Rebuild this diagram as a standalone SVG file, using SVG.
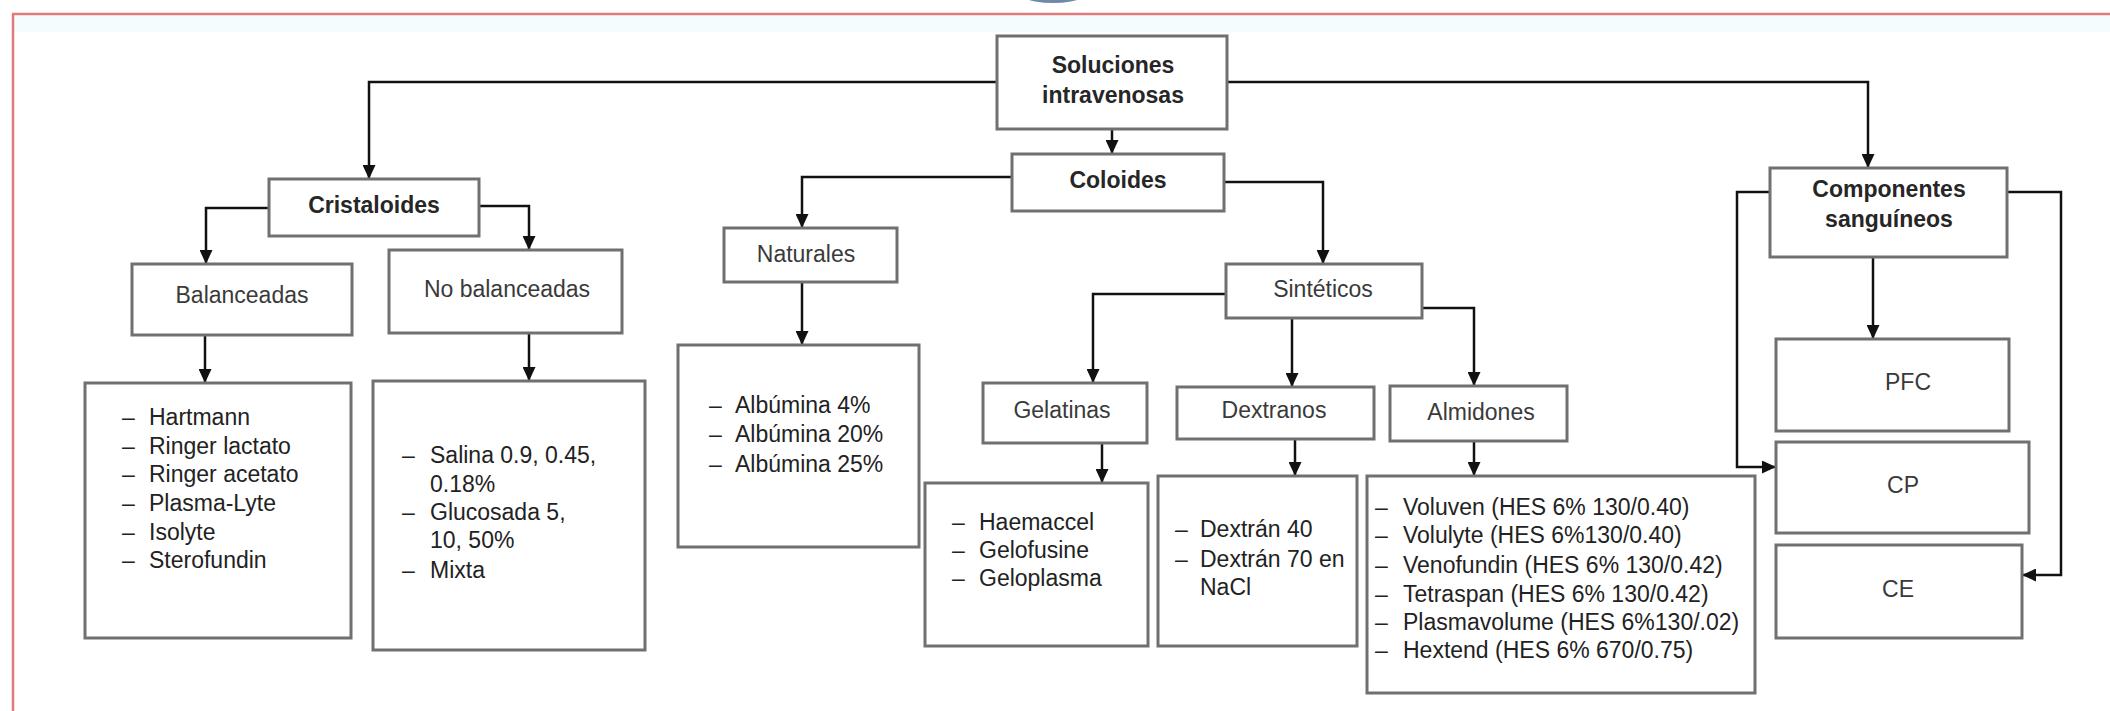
<svg xmlns="http://www.w3.org/2000/svg" width="2110" height="711" viewBox="0 0 2110 711">
<style>
.box{fill:#fff;stroke:#707070;stroke-width:3}
.tb{font-family:"Liberation Sans",Arial,sans-serif;font-size:23px;font-weight:bold;fill:#262626;text-anchor:middle}
.tr{font-family:"Liberation Sans",Arial,sans-serif;font-size:23px;fill:#3a3a3a;text-anchor:middle}
.li{font-family:"Liberation Sans",Arial,sans-serif;font-size:23px;fill:#222}
.c{fill:none;stroke:#111;stroke-width:2.5}
</style>
<defs>
<marker id="ah" markerUnits="userSpaceOnUse" markerWidth="14" markerHeight="13" refX="13" refY="6.5" orient="auto">
<path d="M0,0 L14,6.5 L0,13 Z" fill="#111"/>
</marker>
</defs>
<rect width="2110" height="711" fill="#fff"/>
<ellipse cx="1053" cy="-18" rx="47" ry="21" fill="#7088aa"/>
<rect x="14" y="16" width="2096" height="16" fill="#f4fdfd"/>
<line x1="12" y1="14" x2="2110" y2="14" stroke="#e07a7a" stroke-width="2.5"/>
<line x1="13" y1="14" x2="13" y2="711" stroke="#e07a7a" stroke-width="2.5"/>

<g id="connectors">
<path class="c" d="M997,82 H369 V178" marker-end="url(#ah)"/>
<path class="c" d="M1227,82 H1868 V167" marker-end="url(#ah)"/>
<path class="c" d="M1112,129 V153" marker-end="url(#ah)"/>
<path class="c" d="M269,208 H206 V263" marker-end="url(#ah)"/>
<path class="c" d="M479,206 H529 V249" marker-end="url(#ah)"/>
<path class="c" d="M205,335 V382" marker-end="url(#ah)"/>
<path class="c" d="M529,333 V380" marker-end="url(#ah)"/>
<path class="c" d="M1012,177 H802 V227" marker-end="url(#ah)"/>
<path class="c" d="M1224,182 H1323 V263" marker-end="url(#ah)"/>
<path class="c" d="M802,282 V344" marker-end="url(#ah)"/>
<path class="c" d="M1226,294 H1093 V382" marker-end="url(#ah)"/>
<path class="c" d="M1292,318 V386" marker-end="url(#ah)"/>
<path class="c" d="M1422,308 H1474 V385" marker-end="url(#ah)"/>
<path class="c" d="M1102,443 V482" marker-end="url(#ah)"/>
<path class="c" d="M1295,439 V475" marker-end="url(#ah)"/>
<path class="c" d="M1474,441 V475" marker-end="url(#ah)"/>
<path class="c" d="M1873,257 V338" marker-end="url(#ah)"/>
<path class="c" d="M1770,192 H1737 V467 H1775" marker-end="url(#ah)"/>
<path class="c" d="M2007,192 H2061 V575 H2023" marker-end="url(#ah)"/>
</g>

<g id="soluciones">
<rect class="box" x="997" y="36" width="230" height="93"/>
<text class="tb" x="1113" y="73">Soluciones</text>
<text class="tb" x="1113" y="103">intravenosas</text>
</g>
<g id="cristaloides">
<rect class="box" x="269" y="179" width="210" height="57"/>
<text class="tb" x="374" y="213">Cristaloides</text>
</g>
<g id="balanceadas">
<rect class="box" x="132" y="264" width="220" height="71"/>
<text class="tr" x="242" y="303">Balanceadas</text>
</g>
<g id="nobalanceadas">
<rect class="box" x="389" y="250" width="233" height="83"/>
<text class="tr" x="507" y="297">No balanceadas</text>
</g>
<g id="lista-balanceadas">
<rect class="box" x="85" y="383" width="266" height="255"/>
<text class="li"><tspan x="122" y="425">–</tspan><tspan x="149" y="425">Hartmann</tspan></text>
<text class="li"><tspan x="122" y="454">–</tspan><tspan x="149" y="454">Ringer lactato</tspan></text>
<text class="li"><tspan x="122" y="482">–</tspan><tspan x="149" y="482">Ringer acetato</tspan></text>
<text class="li"><tspan x="122" y="511">–</tspan><tspan x="149" y="511">Plasma-Lyte</tspan></text>
<text class="li"><tspan x="122" y="540">–</tspan><tspan x="149" y="540">Isolyte</tspan></text>
<text class="li"><tspan x="122" y="568">–</tspan><tspan x="149" y="568">Sterofundin</tspan></text>
</g>
<g id="lista-nobalanceadas">
<rect class="box" x="373" y="381" width="272" height="269"/>
<text class="li"><tspan x="402" y="463">–</tspan><tspan x="430" y="463">Salina 0.9, 0.45,</tspan></text>
<text class="li" x="430" y="492">0.18%</text>
<text class="li"><tspan x="402" y="520">–</tspan><tspan x="430" y="520">Glucosada 5,</tspan></text>
<text class="li" x="430" y="548">10, 50%</text>
<text class="li"><tspan x="402" y="578">–</tspan><tspan x="430" y="578">Mixta</tspan></text>
</g>
<g id="coloides">
<rect class="box" x="1012" y="154" width="212" height="57"/>
<text class="tb" x="1118" y="188">Coloides</text>
</g>
<g id="naturales">
<rect class="box" x="724" y="228" width="173" height="54"/>
<text class="tr" x="806" y="262">Naturales</text>
</g>
<g id="lista-naturales">
<rect class="box" x="678" y="345" width="241" height="202"/>
<text class="li"><tspan x="709" y="413">–</tspan><tspan x="735" y="413">Albúmina 4%</tspan></text>
<text class="li"><tspan x="709" y="442">–</tspan><tspan x="735" y="442">Albúmina 20%</tspan></text>
<text class="li"><tspan x="709" y="472">–</tspan><tspan x="735" y="472">Albúmina 25%</tspan></text>
</g>
<g id="sinteticos">
<rect class="box" x="1226" y="264" width="196" height="54"/>
<text class="tr" x="1323" y="297">Sintéticos</text>
</g>
<g id="gelatinas">
<rect class="box" x="983" y="383" width="164" height="60"/>
<text class="tr" x="1062" y="418">Gelatinas</text>
</g>
<g id="dextranos">
<rect class="box" x="1177" y="387" width="197" height="52"/>
<text class="tr" x="1274" y="418">Dextranos</text>
</g>
<g id="almidones">
<rect class="box" x="1390" y="386" width="177" height="55"/>
<text class="tr" x="1481" y="420">Almidones</text>
</g>
<g id="lista-gelatinas">
<rect class="box" x="925" y="483" width="223" height="163"/>
<text class="li"><tspan x="952" y="530">–</tspan><tspan x="979" y="530">Haemaccel</tspan></text>
<text class="li"><tspan x="952" y="558">–</tspan><tspan x="979" y="558">Gelofusine</tspan></text>
<text class="li"><tspan x="952" y="586">–</tspan><tspan x="979" y="586">Geloplasma</tspan></text>
</g>
<g id="lista-dextranos">
<rect class="box" x="1158" y="476" width="199" height="170"/>
<text class="li"><tspan x="1175" y="537">–</tspan><tspan x="1200" y="537">Dextrán 40</tspan></text>
<text class="li"><tspan x="1175" y="567">–</tspan><tspan x="1200" y="567">Dextrán 70 en</tspan></text>
<text class="li" x="1200" y="595">NaCl</text>
</g>
<g id="lista-almidones">
<rect class="box" x="1367" y="476" width="388" height="217"/>
<text class="li"><tspan x="1375" y="515">–</tspan><tspan x="1403" y="515">Voluven (HES 6% 130/0.40)</tspan></text>
<text class="li"><tspan x="1375" y="543">–</tspan><tspan x="1403" y="543">Volulyte (HES 6%130/0.40)</tspan></text>
<text class="li"><tspan x="1375" y="573">–</tspan><tspan x="1403" y="573">Venofundin (HES 6% 130/0.42)</tspan></text>
<text class="li"><tspan x="1375" y="602">–</tspan><tspan x="1403" y="602">Tetraspan (HES 6% 130/0.42)</tspan></text>
<text class="li"><tspan x="1375" y="630">–</tspan><tspan x="1403" y="630">Plasmavolume (HES 6%130/.02)</tspan></text>
<text class="li"><tspan x="1375" y="658">–</tspan><tspan x="1403" y="658">Hextend (HES 6% 670/0.75)</tspan></text>
</g>
<g id="componentes">
<rect class="box" x="1770" y="168" width="237" height="89"/>
<text class="tb" x="1889" y="197">Componentes</text>
<text class="tb" x="1889" y="227">sanguíneos</text>
</g>
<g id="pfc">
<rect class="box" x="1776" y="339" width="233" height="92"/>
<text class="tr" x="1908" y="390">PFC</text>
</g>
<g id="cp">
<rect class="box" x="1776" y="442" width="253" height="91"/>
<text class="tr" x="1903" y="493">CP</text>
</g>
<g id="ce">
<rect class="box" x="1776" y="545" width="246" height="93"/>
<text class="tr" x="1898" y="597">CE</text>
</g>
</svg>
